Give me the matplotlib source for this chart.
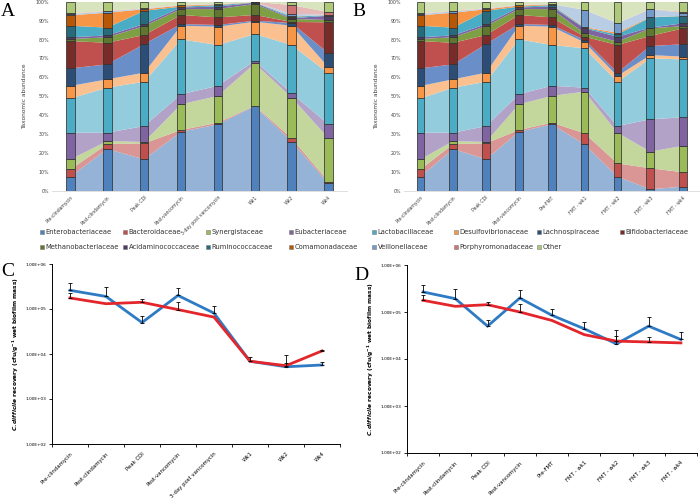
import numpy as np
import matplotlib
matplotlib.use("Agg")
import matplotlib.pyplot as plt
from matplotlib.patches import Rectangle
from matplotlib.ticker import FixedLocator, FuncFormatter, NullLocator

plt.rcParams['font.family'] = ['DejaVu Sans']
plt.rcParams['mathtext.fontset'] = 'custom'
plt.rcParams['mathtext.it'] = 'DejaVu Sans:bold:italic'
plt.rcParams['mathtext.rm'] = 'DejaVu Sans:bold'

# ---------------- data ----------------
CATS_A = ["Pre-clindamycin", "Post-clindamycin", "Peak CDI", "Post-vancomycin",
          "3-day post vancomycin", "Wk1", "Wk2", "Wk4"]
CATS_B = ["Pre-clindamycin", "Post-clindamycin", "Peak CDI", "Post-vancomycin",
          "Pre-FMT", "FMT - wk1", "FMT - wk2", "FMT - wk3", "FMT - wk4"]

FAMILIES = ["Enterobacteriaceae", "Bacteroidaceae", "Synergistaceae", "Eubacteriaceae",
            "Lactobacillaceae", "Desulfovibrionaceae", "Lachnospiraceae", "Bifidobacteriaceae",
            "Methanobacteriaceae", "Acidaminococcaceae", "Ruminococcaceae", "Comamonadaceae",
            "Veillonellaceae", "Porphyromonadaceae", "Other"]

# Panel A taxonomic abundance (%)
ENTERO_A = [7.6, 22.2, 16.7, 31.3, 35.2, 44.9, 26.1, 4.0]
BACT_A = [3.8, 2.6, 8.5, 0.9, 0.9, 0.2, 1.7, 0.9]
SYN_A = [5.3, 1.6, 0.7, 13.6, 14.1, 22.3, 21.5, 22.9]
EUB_A = [14.1, 4.4, 8.4, 5.3, 5.4, 1.4, 2.3, 7.4]
LACTO_A = [18.1, 23.8, 23.4, 29.0, 21.5, 14.1, 25.5, 26.9]
DESULFO_A = [6.6, 4.4, 4.8, 7.2, 9.7, 6.5, 10.2, 3.2]
LACHNO_A = [9.3, 7.9, 15.1, 0.9, 0.9, 0.6, 1.4, 7.4]
BIFIDO_A = [14.4, 11.4, 4.8, 4.8, 4.0, 3.0, 0.6, 16.4]
METHANO_A = [1.1, 2.9, 4.7, 3.1, 4.4, 5.8, 1.6, 1.2]
ACID_A = [0.9, 1.0, 1.1, 0.9, 1.3, 0.7, 0.4, 2.3]
RUMINO_A = [6.1, 4.1, 7.0, 0.4, 0.8, 0.1, 0.8, 0.2]
COMAMON_A = [5.5, 7.9, 0.8, 0.6, 0.3, 0.1, 0.2, 0.1]
VEILLON_A = [0.7, 0.7, 0.3, 0.2, 0.2, 0.1, 1.2, 0.3]
PORPHYRO_A = [0.3, 0.3, 0.2, 0.2, 0.1, 0.1, 4.7, 1.3]
OTHER_A = [6.2, 4.8, 3.5, 1.6, 1.2, 0.1, 1.8, 5.5]

# Panel B taxonomic abundance (%)
ENTERO_B = [7.6, 22.2, 16.7, 31.3, 35.2, 24.6, 7.6, 0.9, 2.3]
BACT_B = [3.8, 2.6, 8.5, 0.9, 0.9, 5.9, 7.0, 11.1, 7.6]
SYN_B = [5.3, 1.6, 0.7, 13.6, 14.1, 22.0, 16.2, 8.8, 14.0]
EUB_B = [14.1, 4.4, 8.4, 5.3, 5.4, 2.1, 3.5, 17.1, 15.0]
LACTO_B = [18.1, 23.8, 23.4, 29.0, 21.5, 20.8, 23.3, 32.2, 30.6]
DESULFO_B = [6.6, 4.4, 4.8, 7.2, 9.7, 3.1, 3.1, 1.7, 1.5]
LACHNO_B = [9.3, 7.9, 15.1, 0.9, 0.9, 1.3, 1.8, 4.8, 6.5]
BIFIDO_B = [14.4, 11.4, 4.8, 4.8, 4.0, 1.7, 14.6, 5.3, 8.4]
METHANO_B = [1.1, 2.9, 4.7, 3.1, 4.4, 1.8, 1.8, 4.0, 1.2]
ACID_B = [0.9, 1.0, 1.1, 0.9, 1.3, 2.6, 2.6, 0.4, 1.5]
RUMINO_B = [6.1, 4.1, 7.0, 0.4, 0.8, 0.4, 1.2, 5.4, 3.8]
COMAMON_B = [5.5, 7.9, 0.8, 0.6, 0.3, 0.3, 0.9, 0.2, 0.1]
VEILLON_B = [0.7, 0.7, 0.3, 0.2, 0.2, 9.0, 5.0, 4.1, 1.7]
PORPHYRO_B = [0.3, 0.3, 0.2, 0.2, 0.1, 0.2, 0.2, 0.2, 0.5]
OTHER_B = [6.2, 4.8, 3.5, 1.6, 1.2, 4.2, 11.2, 3.8, 5.3]

# Panel C: C. difficile recovery (cfu/g wet biofilm mass)
C_BLUE = [2.6e5, 1.9e5, 5.0e4, 2.0e5, 8.1e4, 6.9e3, 5.2e3, 5.7e3]
C_BLUE_ERR_TOP = [3.7e5, 3.1e5, 6.9e4, 2.9e5, 1.15e5, 8.7e3, 9.3e3, 6.6e3]
C_RED = [1.76e5, 1.31e5, 1.41e5, 9.7e4, 6.6e4, 6.9e3, 5.5e3, 1.17e4]
C_RED_ERR_TOP = [2.3e5, np.nan, 1.67e5, 1.43e5, np.nan, np.nan, 6.4e3, 1.24e4]

# Panel D
D_BLUE = [2.67e5, 1.92e5, 5.0e4, 1.98e5, 8.5e4, 4.4e4, 2.1e4, 5.0e4, 2.6e4]
D_BLUE_ERR_TOP = [3.7e5, 3.1e5, 6.9e4, 3.0e5, 1.18e5, 6.1e4, 4.2e4, 7.8e4, 3.7e4]
D_RED = [1.77e5, 1.32e5, 1.43e5, 1.0e5, 6.6e4, 3.3e4, 2.4e4, 2.3e4, 2.2e4]
D_RED_ERR_TOP = [2.3e5, np.nan, 1.6e5, 1.5e5, np.nan, np.nan, 3.1e4, 3.0e4, np.nan]

# ---------------- styles ----------------
BAR_COLORS = ["#4F81BD", "#C0504D", "#9BBB59", "#8064A2", "#4BACC6", "#F79646",
              "#2C4D75", "#772C2A", "#5F7530", "#4D3B62", "#276A7C", "#B65708",
              "#729ACA", "#CD7371", "#AFC97A"]
AREA_COLORS = ["#95B3D7", "#D99694", "#C3D69B", "#B3A2C7", "#93CDDD", "#FAC090",
               "#6A8FC8", "#C0504D", "#7F9F45", "#8064A2", "#4BACC6", "#F79646",
               "#B9CDE5", "#E6B9B8", "#D7E4BD"]
BLUE = "#2E7BC4"
RED = "#E3262B"

W, H = 700, 499
fig = plt.figure(figsize=(W / 100, H / 100), dpi=100)


def px_axes(left, top, right, bottom):
    return fig.add_axes([left / W, 1 - bottom / H, (right - left) / W, (bottom - top) / H])


def stack_panel(ax, cats, series):
    x = np.arange(len(cats))
    data = np.array(series, dtype=float)
    ax.stackplot(x, data, colors=AREA_COLORS, linewidth=0)
    bottom = np.zeros(len(cats))
    for vals, c in zip(data, BAR_COLORS):
        ax.bar(x, vals, width=0.23, bottom=bottom, color=c,
               edgecolor="#333333", linewidth=0.55, zorder=3)
        bottom += vals
    ax.set_xlim(-0.5, len(cats) - 0.5)
    ax.set_ylim(0, 100)
    ax.set_yticks(np.arange(0, 101, 10))
    ax.set_yticklabels([f"{v}%" for v in range(0, 101, 10)])
    ax.tick_params(axis='y', length=0, labelsize=3.4, pad=2, labelcolor="#404040")
    ax.set_xticks(x)
    ax.set_xticklabels(cats, rotation=45, ha='right', rotation_mode='anchor')
    ax.tick_params(axis='x', length=0, labelsize=3.3, pad=3, labelcolor="#404040")
    for s in ['top', 'right', 'left']:
        ax.spines[s].set_visible(False)
    ax.spines['bottom'].set_color("#d9d9d9")
    ax.spines['bottom'].set_linewidth(0.6)
    ax.set_ylabel("Taxonomic abundance", fontsize=4.2, color="#404040", labelpad=6)


axA = px_axes(52, 1.7, 347, 191)
stack_panel(axA, CATS_A, [ENTERO_A, BACT_A, SYN_A, EUB_A, LACTO_A, DESULFO_A, LACHNO_A,
                          BIFIDO_A, METHANO_A, ACID_A, RUMINO_A, COMAMON_A, VEILLON_A,
                          PORPHYRO_A, OTHER_A])
axB = px_axes(404, 1.7, 699.5, 191)
stack_panel(axB, CATS_B, [ENTERO_B, BACT_B, SYN_B, EUB_B, LACTO_B, DESULFO_B, LACHNO_B,
                          BIFIDO_B, METHANO_B, ACID_B, RUMINO_B, COMAMON_B, VEILLON_B,
                          PORPHYRO_B, OTHER_B])

# legend (manual grid, row-major)
col_x = [40, 123, 206, 289, 372, 454, 537, 620]
row_y = [232, 247]
for i, (name, c) in enumerate(zip(FAMILIES, BAR_COLORS)):
    r, k = divmod(i, 8)
    x0, y0 = col_x[k], row_y[r]
    fig.add_artist(Rectangle((x0 / W, 1 - (y0 + 2) / H), 4 / W, 4 / H,
                             transform=fig.transFigure, facecolor=c,
                             edgecolor="#7f7f7f", linewidth=0.4))
    fig.text((x0 + 5.5) / W, 1 - y0 / H, name, fontsize=4.9, color="#333333",
             va='center', ha='left')


def line_panel(ax, cats, blue, blue_top, red, red_top):
    x = np.arange(len(cats))
    blue = np.array(blue); red = np.array(red)
    bt = np.array(blue_top, dtype=float); rt = np.array(red_top, dtype=float)
    ax.plot(x, blue, color=BLUE, lw=2.0, zorder=2, solid_joinstyle='miter')
    ax.plot(x, red, color=RED, lw=2.0, zorder=3, solid_joinstyle='miter')
    mb = ~np.isnan(bt)
    ax.errorbar(x[mb], blue[mb], yerr=[np.zeros(mb.sum()), bt[mb] - blue[mb]],
                fmt='none', ecolor='black', elinewidth=0.6, capsize=1.2, capthick=0.6, zorder=4)
    mr = ~np.isnan(rt)
    ax.errorbar(x[mr], red[mr], yerr=[np.zeros(mr.sum()), rt[mr] - red[mr]],
                fmt='none', ecolor='black', elinewidth=0.6, capsize=1.2, capthick=0.6, zorder=4)
    ax.set_yscale('log')
    ax.set_ylim(1e2, 1e6)
    ax.set_xlim(-0.5, len(cats) - 0.5)
    ax.yaxis.set_major_locator(FixedLocator([1e2, 1e3, 1e4, 1e5, 1e6]))
    ax.yaxis.set_minor_locator(NullLocator())
    ax.yaxis.set_major_formatter(FuncFormatter(lambda v, p: f"{v:.2E}"))
    ax.tick_params(axis='y', length=2, width=0.6, labelsize=3.1, pad=2)
    ax.set_xticks(x)
    ax.set_xticklabels(cats, rotation=45, ha='right', rotation_mode='anchor')
    ax.set_xticks(np.arange(len(cats) + 1) - 0.5, minor=True)
    ax.tick_params(axis='x', which='major', length=0, labelsize=3.9, pad=5)
    ax.tick_params(axis='x', which='minor', length=2, width=0.6, direction='out')
    for s in ['top', 'right']:
        ax.spines[s].set_visible(False)
    for s in ['left', 'bottom']:
        ax.spines[s].set_linewidth(0.7)
    ax.set_ylabel(r"$\it{C. difficile}$ recovery (cfu/g$^{-1}$ wet biofilm mass)",
                  fontsize=4.2, fontweight='bold', labelpad=3)


axC = px_axes(52, 264, 340, 444)
line_panel(axC, CATS_A, C_BLUE, C_BLUE_ERR_TOP, C_RED, C_RED_ERR_TOP)
axD = px_axes(407, 265, 697, 453)
line_panel(axD, CATS_B, D_BLUE, D_BLUE_ERR_TOP, D_RED, D_RED_ERR_TOP)

for lab, xx, yy in [("A", 8, 12), ("B", 359, 12), ("C", 8, 272), ("D", 361, 275)]:
    fig.text(xx / W, 1 - yy / H, lab, fontsize=14, family=['Liberation Serif', 'DejaVu Serif'],
             ha='center', va='center')

fig.savefig("out.png", dpi=100)
